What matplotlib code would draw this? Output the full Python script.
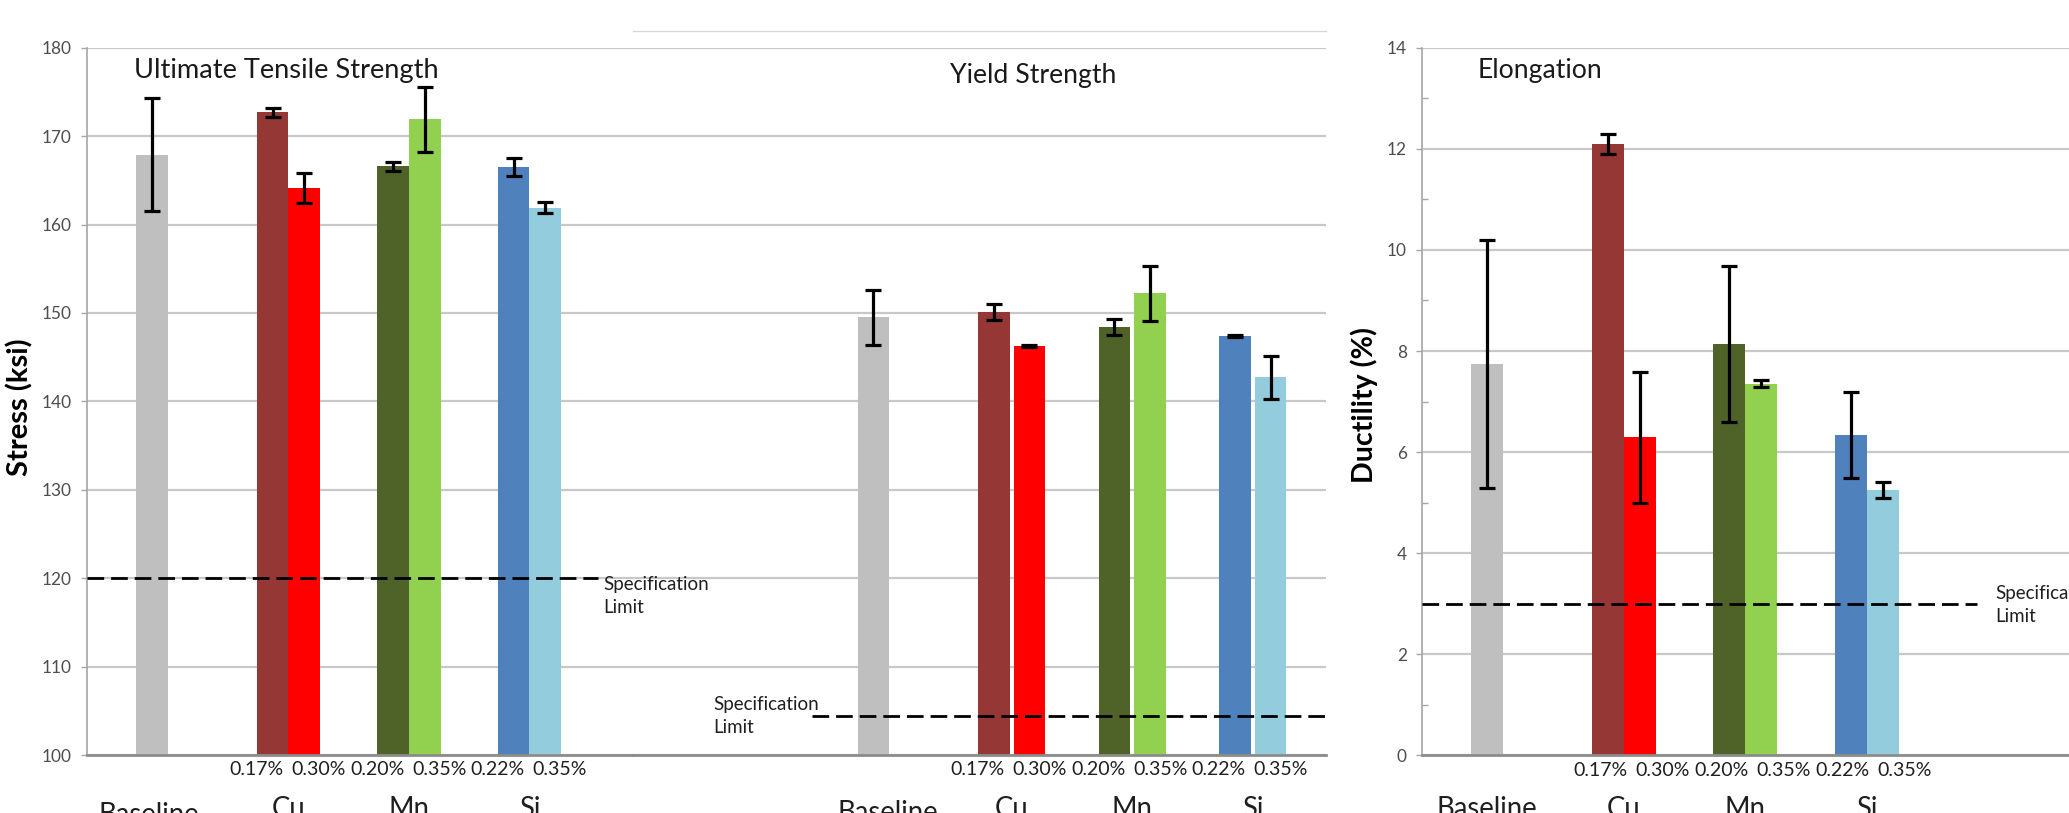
import numpy as np
import matplotlib
matplotlib.use("Agg")
import matplotlib.pyplot as plt
from matplotlib.lines import Line2D

plt.rcParams['font.family'] = ['Lato', 'DejaVu Sans']

# --- data ---
groups = ['Baseline', 'Cu', 'Mn', 'Si']
low_pct = ['0.17%', '0.20%', '0.22%']
high_pct = ['0.30%', '0.35%', '0.35%']

base_color = '#BFBFBF'
low_colors = ['#953735', '#4F6228', '#4F81BD']
high_colors = ['#FF0000', '#92D050', '#93CDDD']

# ultimate tensile strength (ksi)
uts_base, uts_base_err = 167.9, 6.4
uts_low = [172.7, 166.6, 166.5]
uts_low_err = [0.5, 0.5, 1.0]
uts_high = [164.1, 171.9, 161.9]
uts_high_err = [1.7, 3.7, 0.65]
uts_spec = 120

# yield strength (ksi)
ys_base, ys_base_err = 149.5, 3.1
ys_low = [150.1, 148.4, 147.4]
ys_low_err = [0.95, 0.9, 0.15]
ys_high = [146.3, 152.2, 142.7]
ys_high_err = [0.1, 3.15, 2.4]
ys_spec = 104.4

# elongation (%)
el_base, el_base_err = 7.74, 2.45
el_low = [12.09, 8.14, 6.34]
el_low_err = [0.2, 1.55, 0.85]
el_high = [6.29, 7.35, 5.25]
el_high_err = [1.3, 0.07, 0.16]
el_spec = 3

W, H = 2069, 813
fig = plt.figure(figsize=(W / 100, H / 100), dpi=100)
fig.patch.set_facecolor('white')


def px_axes(left, top, right, bottom):
    return fig.add_axes([left / W, 1 - bottom / H, (right - left) / W, (bottom - top) / H])


grid_c = '#c8c8c8'
tick_c = '#4d4d4d'
txt_c = '#1f1f1f'
ekw = dict(ecolor='black', elinewidth=2.3, capsize=6, capthick=2.3)

pct_texts, grp_texts, spec_texts = [], [], []


def style(ax, ylim, yticks, show_y=True):
    ax.set_ylim(*ylim)
    ax.set_yticks(yticks)
    ax.yaxis.grid(True, color=grid_c, lw=1.6)
    ax.set_axisbelow(True)
    ax.set_xticks([])
    for s in ['top', 'right']:
        ax.spines[s].set_visible(False)
    ax.spines['bottom'].set_color('#8c8c8c')
    ax.spines['bottom'].set_linewidth(2)
    if show_y:
        ax.spines['left'].set_color('#a6a6a6')
        ax.spines['left'].set_linewidth(1.2)
        ax.tick_params(axis='y', colors='#a6a6a6', length=4, width=1, pad=7,
                       labelsize=11.5, labelcolor=tick_c)
    else:
        ax.spines['left'].set_visible(False)
        ax.tick_params(axis='y', left=False, labelleft=False)


def draw(ax, base, base_err, low, low_err, high, high_err, w, gap):
    xa = np.arange(1, len(groups))
    ax.bar(0 - gap / 2 - w / 2, base, w, color=base_color, yerr=base_err, error_kw=ekw, zorder=2)
    ax.bar(xa - gap / 2 - w / 2, low, w, color=low_colors, yerr=low_err, error_kw=ekw, zorder=2)
    ax.bar(xa + gap / 2 + w / 2, high, w, color=high_colors, yerr=high_err, error_kw=ekw, zorder=2)


def labels(ax, spacing_px, shift_px, base_px, base_dy=0.0):
    tr = ax.get_xaxis_transform()
    sh = shift_px / spacing_px
    g = 4 / spacing_px
    for i in range(1, len(groups)):
        pct_texts.append(ax.text(i + sh - g, -0.021, low_pct[i - 1], transform=tr, ha='right',
                                 va='center', fontsize=12, color=txt_c))
        pct_texts.append(ax.text(i + sh + g, -0.021, high_pct[i - 1], transform=tr, ha='left',
                                 va='center', fontsize=12, color=txt_c))
        grp_texts.append(ax.text(i, -0.058, groups[i], transform=tr, ha='center', va='top',
                                 fontsize=18, color=txt_c))
    grp_texts.append(ax.text(base_px / spacing_px, -0.058 - base_dy, groups[0], transform=tr,
                             ha='center', va='top', fontsize=18, color=txt_c))


def spec_text(ax, x, y):
    spec_texts.append(ax.text(x, y, 'Specification\nLimit', ha='left', va='top', fontsize=11.5,
                              color=txt_c, linespacing=1.45, clip_on=False, zorder=5))


# --- left panel: ultimate tensile strength ---
ax1 = px_axes(87, 47.7, 633, 755)
sp1 = 120.5
ax1.set_xlim((87 - 167.9) / sp1, (633 - 167.9) / sp1)
style(ax1, (100, 180), np.arange(100, 181, 10))
w1 = 31.6 / sp1
draw(ax1, uts_base, uts_base_err, uts_low, uts_low_err, uts_high, uts_high_err, w1, 0)
ax1.plot([ax1.get_xlim()[0], (598 - 167.9) / sp1], [uts_spec, uts_spec], color='black',
         lw=2, ls=(0, (6, 2.5)), zorder=3, clip_on=False)
labels(ax1, sp1, -0.7, -19, base_dy=0.009)

# --- middle panel: yield strength (shares the left scale) ---
ax2 = px_axes(633, 47.7, 1326, 755)
ax2.patch.set_visible(False)
sp2 = 120.6
ax2.set_xlim((633 - 891) / sp2, (1326 - 891) / sp2)
style(ax2, (100, 180), np.arange(100, 181, 10), show_y=False)
w2 = 31.3 / sp2
g2 = 4.2 / sp2
draw(ax2, ys_base, ys_base_err, ys_low, ys_low_err, ys_high, ys_high_err, w2, g2)
ax2.plot([(811.6 - 891) / sp2, ax2.get_xlim()[1]], [ys_spec, ys_spec], color='black',
         lw=2, ls=(0, (6, 2.5)), zorder=3)
spec_text(ax2, (712.9 - 891) / sp2, ys_spec + 2.3)
labels(ax2, sp2, -3, -3.5, base_dy=0.006)

# left spec label is drawn on top of the middle panel
spec_text(ax2, (603.6 - 891) / sp2, uts_spec + 0.3)

# --- right panel: elongation ---
ax3 = px_axes(1422, 47.7, 2069, 755.4)
sp3 = 121.3
ax3.set_xlim((1422 - 1502.7) / sp3, (2069 - 1502.7) / sp3)
style(ax3, (0, 14), np.arange(0, 15, 2))
ax3.set_yticks(np.arange(1, 14, 2), minor=True)
ax3.tick_params(axis='y', which='minor', direction='in', length=4, width=1, colors='#a6a6a6')
w3 = 32 / sp3
draw(ax3, el_base, el_base_err, el_low, el_low_err, el_high, el_high_err, w3, 0)
ax3.plot([ax3.get_xlim()[0], (1976.6 - 1502.7) / sp3], [el_spec, el_spec], color='black',
         lw=2, ls=(0, (6, 2.5)), zorder=3)
spec_text(ax3, (1995.4 - 1502.7) / sp3, el_spec + 0.37)
labels(ax3, sp3, 7, -16)

# --- titles and axis labels ---
t1 = fig.text(134 / W, 1 - 78 / H, 'Ultimate Tensile Strength', fontsize=19, color='#1a1a1a',
              va='baseline', ha='left')
t2 = fig.text(1033 / W, 1 - 82.7 / H, 'Yield Strength', fontsize=19, color='#1a1a1a',
              va='baseline', ha='center')
t3 = fig.text(1478 / W, 1 - 78.3 / H, 'Elongation', fontsize=19, color='#1a1a1a',
              va='baseline', ha='left')
yl1 = fig.text(20 / W, 1 - 407 / H, 'Stress (ksi)', rotation=90, fontsize=17, fontweight='bold',
               ha='center', va='center', color='black')
yl2 = fig.text(1364 / W, 1 - 405 / H, 'Ductility (%)', rotation=90, fontsize=17,
               fontweight='bold', ha='center', va='center', color='black')

# thin frame edge of the pasted middle chart
fig.add_artist(Line2D([633 / W, 1326 / W], [1 - 31 / H, 1 - 31 / H], color='#d9d9d9', lw=1))

# scale font sizes so the text lengths match the reference (in pixels)
fig.canvas.draw()
rend = fig.canvas.get_renderer()


def fitted(t, px, vertical=False):
    bb = t.get_window_extent(rend)
    cur = bb.height if vertical else bb.width
    return t.get_fontsize() * px / cur


for t, px in [(t1, 306), (t2, 167), (t3, 125)]:
    t.set_fontsize(fitted(t, px))
yl1.set_fontsize(fitted(yl1, 138, vertical=True))
yl2.set_fontsize(fitted(yl2, 156, vertical=True))

s = fitted(pct_texts[0], 54)
for t in pct_texts:
    t.set_fontsize(s)
s = fitted(grp_texts[-1], 101)
for t in grp_texts:
    t.set_fontsize(s)
s = fitted(spec_texts[0], 106)
for t in spec_texts:
    t.set_fontsize(s)
s = fitted(ax1.get_yticklabels()[5], 30)
ax1.tick_params(axis='y', labelsize=s)
ax3.tick_params(axis='y', labelsize=s)

fig.savefig('out.png', dpi=100)
